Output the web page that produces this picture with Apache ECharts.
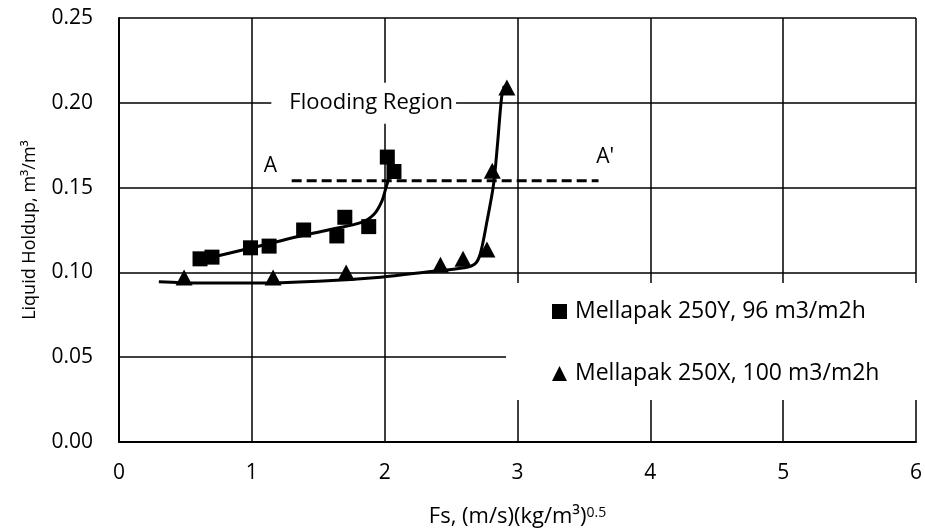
<!DOCTYPE html>
<html>
<head>
	<meta http-equiv="Content-Type" content="text/html;charset=utf-8">
	<title>Liquid Holdup</title>
	<style>
		html, body { margin:0; padding:0; background:#fff; }
		#chart { width:925px; height:531px; }
	</style>
</head>
<body>
<div id="chart"></div>
<script src="https://cdn.jsdelivr.net/npm/echarts@6/dist/echarts.min.js"></script>
<script>
// measured points, Mellapak 250Y (squares)
var yX = [0.61, 0.70, 0.99, 1.13, 1.39, 1.64, 1.70, 1.88, 2.02, 2.07];
var yY = [0.108, 0.109, 0.1145, 0.1155, 0.125, 0.1215, 0.1325, 0.127, 0.168, 0.1595];

// measured points, Mellapak 250X (triangles)
var xX = [0.49, 1.16, 1.71, 2.42, 2.59, 2.77, 2.81, 2.92];
var xY = [0.097, 0.097, 0.100, 0.1045, 0.108, 0.1135, 0.160, 0.209];

// trend lines
var fitYX = [0.62, 1.00, 1.35, 1.60, 1.82, 1.92, 1.98, 2.01, 2.03];
var fitYY = [0.1075, 0.1145, 0.1212, 0.1254, 0.1293, 0.1343, 0.1422, 0.150, 0.155];
var fitXX = [0.30, 0.60, 1.00, 1.50, 1.97, 2.35, 2.60, 2.68, 2.72, 2.77, 2.82, 2.85, 2.88, 2.90];
var fitXY = [0.0945, 0.0937, 0.0937, 0.0948, 0.0972, 0.1005, 0.1027, 0.1050, 0.1110, 0.130, 0.152, 0.176, 0.203, 0.210];

// A - A' line
var dashX = [1.30, 3.61];
var dashY = [0.154, 0.154];

var xTicks = [0, 1, 2, 3, 4, 5, 6];
var yTicks = [0, 0.05, 0.10, 0.15, 0.20, 0.25];

var legendNames = ['Mellapak 250Y, 96 m3/m2h', 'Mellapak 250X, 100 m3/m2h'];

var notes = [
	{name: 'A', x: 1.14, y: 0.163},
	{name: "A'", x: 3.66, y: 0.168}
];
var floodNote = {name: 'Flooding Region', x: 1.842, y: 0.1998};

function pairs(a, b){
	var out = [];
	for (var i = 0; i < a.length; i++) out.push([a[i], b[i]]);
	return out;
}

var FONT = 'Open Sans';

var option = {
	animation: false,
	textStyle: { fontFamily: FONT, color: '#000' },
	grid: { left: 119, right: 9, top: 18, bottom: 89, containLabel: false, outerBoundsMode: 'none' },
	graphic: [
		// white box behind the legend
		{ type: 'rect', left: 506, top: 283, z: 1, shape: { width: 419, height: 117 }, style: { fill: '#fff' } }
	],
	legend: {
		data: [
			{ name: legendNames[0], icon: 'rect' },
			{ name: legendNames[1], icon: 'triangle' }
		],
		orient: 'vertical',
		left: 547, top: 295,
		itemWidth: 15, itemHeight: 15, itemGap: 39,
		textStyle: { fontFamily: FONT, fontSize: 23, color: '#000', padding: [0, 0, 0, 3] },
		z: 5
	},
	xAxis: {
		type: 'value', min: 0, max: 6, interval: 1,
		name: '{n|Fs, (m/s)(kg/m³)}{s|0.5}',
		nameLocation: 'middle', nameGap: 64,
		nameTextStyle: {
			rich: {
				n: { fontFamily: FONT, fontSize: 22, color: '#000' },
				s: { fontFamily: FONT, fontSize: 14, color: '#000', verticalAlign: 'top' }
			}
		},
		axisLine: { lineStyle: { color: '#000', width: 2 } },
		axisTick: { show: false },
		axisLabel: { fontSize: 21, color: '#000', margin: 21, formatter: function(v){ return xTicks.indexOf(v) >= 0 ? String(v) : ''; } },
		splitLine: { show: true, lineStyle: { color: '#000', width: 1.5 } }
	},
	yAxis: {
		type: 'value', min: 0, max: 0.25, interval: 0.05,
		name: 'Liquid Holdup, m³/m³',
		nameLocation: 'middle', nameGap: 80,
		nameTextStyle: { fontFamily: FONT, fontSize: 18, color: '#000' },
		axisLine: { show: true, lineStyle: { color: '#000', width: 2 } },
		axisTick: { show: false },
		axisLabel: { fontSize: 21, color: '#000', margin: 26, formatter: function(v){ return v.toFixed(2); } },
		splitLine: { show: true, lineStyle: { color: '#000', width: 1.5 } }
	},
	series: [
		{
			name: 'fit250Y', type: 'line', data: pairs(fitYX, fitYY),
			smooth: 0.3, showSymbol: false, symbol: 'none',
			lineStyle: { color: '#000', width: 3 }, z: 3
		},
		{
			name: 'fit250X', type: 'line', data: pairs(fitXX, fitXY),
			smooth: 0.3, showSymbol: false, symbol: 'none',
			lineStyle: { color: '#000', width: 3 }, z: 3
		},
		{
			name: legendNames[0], type: 'scatter', data: pairs(yX, yY),
			symbol: 'rect', symbolSize: 15, itemStyle: { color: '#000', opacity: 1 }, z: 4
		},
		{
			name: legendNames[1], type: 'scatter', data: pairs(xX, xY),
			symbol: 'triangle', symbolSize: [17, 16], itemStyle: { color: '#000', opacity: 1 }, z: 4
		},
		{
			name: 'AA', type: 'line', data: pairs(dashX, dashY),
			showSymbol: false, symbol: 'none',
			lineStyle: { color: '#000', width: 3, type: [10, 5] }, z: 3
		},
		{
			name: 'notes', type: 'scatter', symbolSize: 0, z: 6,
			itemStyle: { opacity: 1 },
			data: notes.map(function(n){ return { name: n.name, value: [n.x, n.y] }; }),
			label: { show: true, position: 'inside', formatter: '{b}', fontFamily: FONT, fontSize: 21, color: '#000' }
		},
		{
			name: 'flood', type: 'scatter', symbolSize: 0, z: 6,
			itemStyle: { opacity: 1 },
			data: [{ name: floodNote.name, value: [floodNote.x, floodNote.y] }],
			label: {
				show: true, position: 'inside', formatter: '{b}', fontFamily: FONT, fontSize: 22, color: '#000',
				backgroundColor: '#fff', padding: [14, 3, 5, 18]
			}
		}
	]
};

var myChart = echarts.init(document.getElementById('chart'));
myChart.setOption(option);
</script>
</body>
</html>
